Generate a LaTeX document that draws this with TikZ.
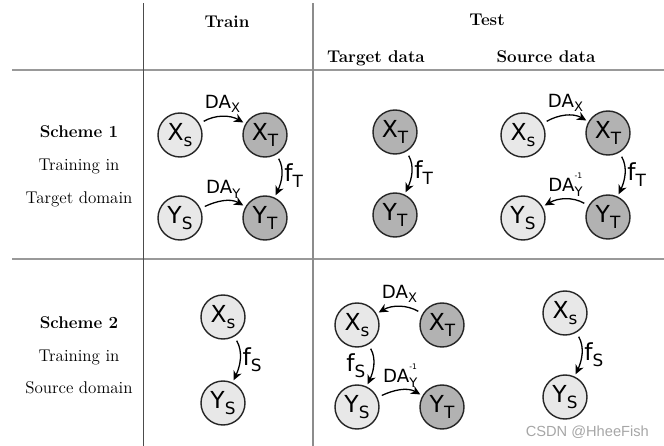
\documentclass[tikz,border=0pt]{standalone}
\usepackage{fontspec}
\usetikzlibrary{arrows.meta,positioning}
\newfontfamily\labelfont{DejaVu Sans}
\newfontfamily\markfont{Liberation Sans}
\newcommand{\idx}[1]{\raisebox{-0.26em}{\scalebox{0.72}{#1}}}
\newcommand{\invidx}[1]{\rlap{\raisebox{0.75em}{\scalebox{0.42}{-1}}}\idx{#1}}

\begin{document}
\begin{tikzpicture}[
    x=0.03cm, y=-0.03cm,
    src/.style={circle, draw=black!85, line width=1.2pt, fill=black!9, minimum size=1.32cm, inner sep=0pt, font=\labelfont\fontsize{20}{20}\selectfont},
    tgt/.style={src, fill=black!30},
    arrow/.style={-{Stealth[length=8pt,width=7.5pt]}, line width=1.1pt, shorten <=4pt, shorten >=2pt},
    dalabel/.style={font=\labelfont\fontsize{15.5}{15.5}\selectfont, inner sep=1pt},
    flabel/.style={font=\labelfont\fontsize{20}{20}\selectfont, inner sep=2pt},
    head/.style={anchor=base, font=\fontsize{14.5}{17}\selectfont\bfseries},
    side/.style={anchor=base, font=\fontsize{14.5}{17}\selectfont},
    tabline/.style={draw=black!40, line width=1.2pt}
]
    \useasboundingbox (0,0) rectangle (664,446);

    % Tabellenlinien
    \draw[tabline] (12,70) -- (664,70);
    \draw[tabline] (12,259) -- (664,259);
    \draw[draw=black!70, line width=0.8pt] (143,3) -- (143,446);
    \draw[draw=black!45, line width=1pt] (313,3) -- (313,446);

    % Kopfzeile
    \node[head] (train) at (227,27) {Train};
    \node[head] (test) at (487,25) {Test};
    \node[head] (tdata) at (376,62) {Target data};
    \node[head] (sdata) at (546,62) {Source data};

    % Zeilenbeschriftung
    \node[side, font=\fontsize{14.5}{17}\selectfont\bfseries] (sch1) at (79,137) {Scheme 1};
    \node[side] (tin1) at (79,170) {Training in};
    \node[side] (dom1) at (79,203) {Target domain};
    \node[side, font=\fontsize{14.5}{17}\selectfont\bfseries] (sch2) at (79,328) {Scheme 2};
    \node[side] (tin2) at (79,361) {Training in};
    \node[side] (dom2) at (79,393) {Source domain};

    % Schema 1: Training
    \node[src] (tr1xs) at (180,135) {X\idx{s}};
    \node[tgt] (tr1xt) at (265,135) {X\idx{T}};
    \node[src] (tr1ys) at (180,218) {Y\idx{S}};
    \node[tgt] (tr1yt) at (265,218) {Y\idx{T}};
    \draw[arrow] (tr1xs) to[out=30,in=150] node[dalabel, above=2pt] {DA\idx{X}} (tr1xt);
    \draw[arrow] (tr1xt) to[out=-60,in=65] node[flabel, right] {f\idx{T}} (tr1yt);
    \draw[arrow] (tr1ys) to[out=25,in=150] node[dalabel, above=1pt] {DA\idx{Y}} (tr1yt);

    % Schema 1: Test auf Zieldaten
    \node[tgt] (te1xt) at (395,132) {X\idx{T}};
    \node[tgt] (te1yt) at (395,215) {Y\idx{T}};
    \draw[arrow] (te1xt) to[out=-60,in=65] node[flabel, right] {f\idx{T}} (te1yt);

    % Schema 1: Test auf Quelldaten
    \node[src] (so1xs) at (523,135) {X\idx{s}};
    \node[tgt] (so1xt) at (608,133) {X\idx{T}};
    \node[src] (so1ys) at (523,218) {Y\idx{S}};
    \node[tgt] (so1yt) at (608,217) {Y\idx{T}};
    \draw[arrow] (so1xs) to[out=30,in=150] node[dalabel, above=2pt] {DA\idx{X}} (so1xt);
    \draw[arrow] (so1xt) to[out=-60,in=65] node[flabel, right] {f\idx{T}} (so1yt);
    \draw[arrow] (so1yt) to[out=150,in=30] node[dalabel, above=1pt] {DA\invidx{Y}} (so1ys);

    % Schema 2: Training
    \node[src] (tr2xs) at (223,317) {X\idx{s}};
    \node[src] (tr2ys) at (223,403) {Y\idx{S}};
    \draw[arrow] (tr2xs) to[out=-60,in=65] node[flabel, right] {f\idx{S}} (tr2ys);

    % Schema 2: Test auf Zieldaten
    \node[src] (te2xs) at (357,325) {X\idx{s}};
    \node[tgt] (te2xt) at (442,325) {X\idx{T}};
    \node[src] (te2ys) at (357,407) {Y\idx{S}};
    \node[tgt] (te2yt) at (442,407) {Y\idx{T}};
    \draw[arrow] (te2xt) to[out=150,in=30] node[dalabel, above=2pt] {DA\idx{X}} (te2xs);
    \draw[arrow] (te2xs) to[out=-60,in=65] node[flabel, left=4pt] {f\idx{S}} (te2ys);
    \draw[arrow] (te2ys) to[out=25,in=150] node[dalabel, above=1pt] {DA\invidx{Y}} (te2yt);

    % Schema 2: Test auf Quelldaten
    \node[src] (so2xs) at (565,313) {X\idx{s}};
    \node[src] (so2ys) at (565,397) {Y\idx{S}};
    \draw[arrow] (so2xs) to[out=-60,in=65] node[flabel, right] {f\idx{S}} (so2ys);

    % Wasserzeichen
    \node[anchor=base east, text=black!35, font=\markfont\fontsize{12.5}{14}\selectfont] (mark) at (653,436) {CSDN @HheeFish};
\end{tikzpicture}
\end{document}
